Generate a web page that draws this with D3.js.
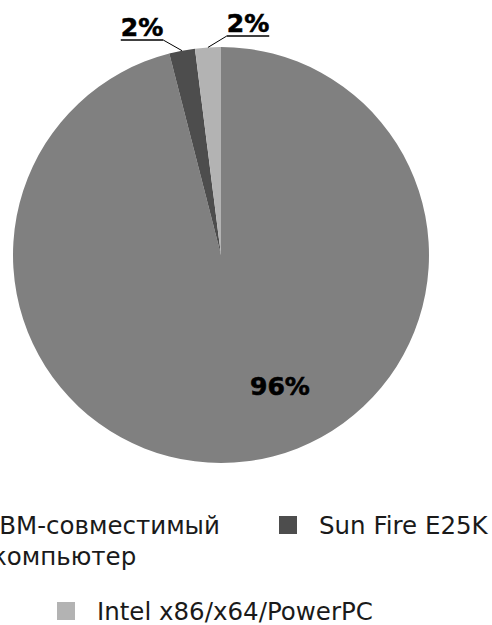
<!DOCTYPE html>
<html>
<head>
<meta charset="utf-8">
<script src="https://cdn.jsdelivr.net/npm/d3@7"></script>
<style>
  body { margin: 0; background: #fff; }
  svg { display: block; }
  .legend text { font-family: "DejaVu Sans", sans-serif; font-size: 24.5px; fill: #1a1a1a; }
  .pct { font-family: "DejaVu Sans", sans-serif; font-weight: bold; font-size: 25px; fill: #000; stroke: #000; stroke-width: 0.6px; }
</style>
</head>
<body>
<svg id="chart" width="492" height="625"></svg>
<script>
// data
var categories = ["IBM-совместимый компьютер", "Sun Fire E25K", "Intel x86/x64/PowerPC"];
var shares = [96, 2, 2];
var pctLabels = ["96%", "2%", "2%"];
var colors = ["#808080", "#4d4d4d", "#b3b3b3"];

var width = 492, height = 625;
var cx = 221, cy = 255, radius = 208;

// where each percent label sits (text centre x, baseline y), relative to the pie centre
var labelOffset = [[59, 140], [-79, -219], [27, -223]];

var svg = d3.select("#chart");
var g = svg.append("g").attr("transform", "translate(" + cx + "," + cy + ")");

var pie = d3.pie().sort(null).value(function(d) { return d; });
var arcs = pie(shares);
var arc = d3.arc().innerRadius(0).outerRadius(radius);

g.selectAll("path.slice")
  .data(arcs)
  .enter().append("path")
    .attr("class", "slice")
    .attr("d", arc)
    .attr("fill", function(d, i) { return colors[i]; });

// labels
arcs.forEach(function(d, i) {
  var x = labelOffset[i][0], y = labelOffset[i][1];
  var t = g.append("text")
    .attr("class", "pct")
    .attr("x", x).attr("y", y)
    .attr("text-anchor", "middle")
    .text(pctLabels[i]);
  if (i == 0) return;
  var w = t.node().getComputedTextLength();
  var uy = y + 4;
  g.append("line")
    .attr("x1", x - w / 2).attr("x2", x + w / 2)
    .attr("y1", uy).attr("y2", uy)
    .attr("stroke", "#404040").attr("stroke-width", 2);
  // leader to the slice edge
  var mid = (d.startAngle + d.endAngle) / 2;
  var px = Math.sin(mid) * radius, py = -Math.cos(mid) * radius;
  var sx = px > x ? x + w / 2 : x - w / 2;
  g.append("line")
    .attr("x1", sx).attr("y1", uy)
    .attr("x2", px).attr("y2", py)
    .attr("stroke", "#000").attr("stroke-width", 1);
});

// legend (first entry is clipped by the left edge, as in the original)
var legendPos = [
  {x: -48, y: 516, lines: ["IBM-совместимый", "компьютер"]},
  {x: 279, y: 516, lines: ["Sun Fire E25K"]},
  {x: 57, y: 602, lines: ["Intel x86/x64/PowerPC"]}
];
var lg = svg.append("g").attr("class", "legend");
categories.forEach(function(c, i) {
  var p = legendPos[i];
  lg.append("rect")
    .attr("x", p.x).attr("y", p.y)
    .attr("width", 18).attr("height", 18)
    .attr("fill", colors[i]);
  var t = lg.append("text").attr("x", p.x + 40).attr("y", p.y + 18);
  p.lines.forEach(function(l, j) {
    t.append("tspan").attr("x", p.x + 40).attr("dy", j == 0 ? 0 : 31).text(l);
  });
});
</script>
</body>
</html>
